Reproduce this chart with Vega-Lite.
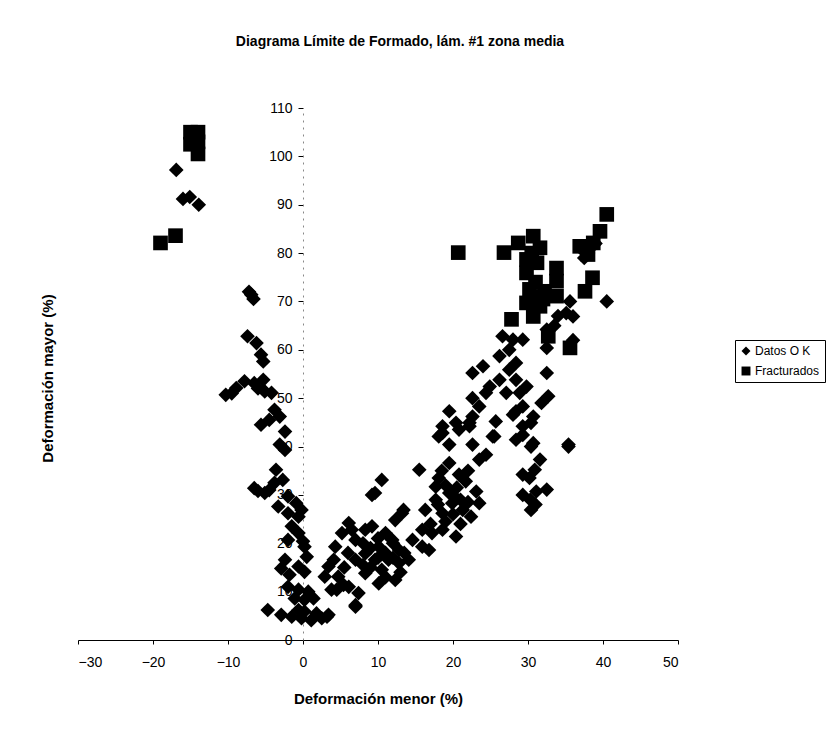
{
  "$schema": "https://vega.github.io/schema/vega-lite/v6.json",
  "width": 600,
  "height": 532,
  "autosize": {"type": "none"},
  "padding": {"left": 78, "top": 108, "right": 148, "bottom": 94},
  "background": "white",
  "title": {
    "text": "Diagrama Límite de Formado, lám. #1 zona media",
    "font": "Liberation Sans",
    "fontSize": 14,
    "fontWeight": "bold",
    "color": "#000",
    "anchor": "middle",
    "frame": "group",
    "dx": 22,
    "offset": 52
  },
  "config": {
    "view": {"stroke": null},
    "font": "Liberation Sans"
  },
  "datasets": {
    "pts": [
      {"x": -16.9, "y": 97.2, "t": "Datos O K"}, {"x": -16.0, "y": 91.2, "t": "Datos O K"}, {"x": -15.1, "y": 91.6, "t": "Datos O K"}, {"x": -13.9, "y": 90.0, "t": "Datos O K"},
      {"x": -6.9, "y": 71.4, "t": "Datos O K"}, {"x": -6.6, "y": 70.5, "t": "Datos O K"}, {"x": -7.2, "y": 72.0, "t": "Datos O K"},
      {"x": -7.4, "y": 62.8, "t": "Datos O K"}, {"x": -6.2, "y": 61.4, "t": "Datos O K"}, {"x": -5.6, "y": 59.0, "t": "Datos O K"}, {"x": -5.3, "y": 57.6, "t": "Datos O K"},
      {"x": -10.3, "y": 50.7, "t": "Datos O K"}, {"x": -8.9, "y": 52.1, "t": "Datos O K"}, {"x": -7.8, "y": 53.5, "t": "Datos O K"}, {"x": -6.5, "y": 53.1, "t": "Datos O K"}, {"x": -5.3, "y": 53.8, "t": "Datos O K"}, {"x": -5.1, "y": 51.4, "t": "Datos O K"}, {"x": -4.2, "y": 51.1, "t": "Datos O K"}, {"x": -9.5, "y": 51.0, "t": "Datos O K"}, {"x": -6.0, "y": 52.0, "t": "Datos O K"},
      {"x": -3.8, "y": 47.6, "t": "Datos O K"}, {"x": -3.1, "y": 46.2, "t": "Datos O K"}, {"x": -5.6, "y": 44.5, "t": "Datos O K"}, {"x": -2.4, "y": 43.1, "t": "Datos O K"}, {"x": -4.5, "y": 45.5, "t": "Datos O K"},
      {"x": -3.1, "y": 40.4, "t": "Datos O K"}, {"x": -2.4, "y": 39.3, "t": "Datos O K"}, {"x": -3.6, "y": 35.2, "t": "Datos O K"},
      {"x": -6.5, "y": 31.4, "t": "Datos O K"}, {"x": -5.1, "y": 30.4, "t": "Datos O K"}, {"x": -3.8, "y": 32.5, "t": "Datos O K"}, {"x": -2.7, "y": 33.1, "t": "Datos O K"}, {"x": -4.5, "y": 31.0, "t": "Datos O K"}, {"x": -6.0, "y": 30.8, "t": "Datos O K"},
      {"x": -2.0, "y": 29.7, "t": "Datos O K"}, {"x": -0.9, "y": 28.3, "t": "Datos O K"}, {"x": -3.3, "y": 27.6, "t": "Datos O K"}, {"x": -2.0, "y": 26.2, "t": "Datos O K"}, {"x": -0.6, "y": 25.5, "t": "Datos O K"}, {"x": -0.2, "y": 26.9, "t": "Datos O K"},
      {"x": -1.5, "y": 23.5, "t": "Datos O K"}, {"x": -0.6, "y": 22.1, "t": "Datos O K"}, {"x": 0.0, "y": 20.4, "t": "Datos O K"}, {"x": -2.0, "y": 20.7, "t": "Datos O K"},
      {"x": 0.2, "y": 19.3, "t": "Datos O K"}, {"x": 0.5, "y": 17.2, "t": "Datos O K"}, {"x": -2.4, "y": 16.6, "t": "Datos O K"}, {"x": -0.6, "y": 15.2, "t": "Datos O K"}, {"x": 0.2, "y": 14.1, "t": "Datos O K"}, {"x": -2.9, "y": 14.8, "t": "Datos O K"}, {"x": -1.8, "y": 13.5, "t": "Datos O K"},
      {"x": -2.0, "y": 11.0, "t": "Datos O K"}, {"x": -0.6, "y": 10.4, "t": "Datos O K"}, {"x": 0.7, "y": 10.0, "t": "Datos O K"}, {"x": 1.4, "y": 8.6, "t": "Datos O K"}, {"x": -1.1, "y": 8.6, "t": "Datos O K"}, {"x": 0.2, "y": 8.3, "t": "Datos O K"},
      {"x": -4.7, "y": 6.2, "t": "Datos O K"}, {"x": -2.9, "y": 5.2, "t": "Datos O K"}, {"x": -1.5, "y": 4.8, "t": "Datos O K"}, {"x": -0.2, "y": 4.5, "t": "Datos O K"}, {"x": 1.1, "y": 4.1, "t": "Datos O K"}, {"x": 2.5, "y": 4.5, "t": "Datos O K"}, {"x": 3.4, "y": 5.2, "t": "Datos O K"}, {"x": 0.2, "y": 5.9, "t": "Datos O K"}, {"x": 1.8, "y": 5.5, "t": "Datos O K"}, {"x": -0.6, "y": 6.2, "t": "Datos O K"},
      {"x": 2.9, "y": 13.1, "t": "Datos O K"}, {"x": 4.5, "y": 10.4, "t": "Datos O K"}, {"x": 5.4, "y": 11.4, "t": "Datos O K"}, {"x": 7.0, "y": 7.2, "t": "Datos O K"}, {"x": 4.3, "y": 19.3, "t": "Datos O K"}, {"x": 4.1, "y": 16.6, "t": "Datos O K"}, {"x": 6.1, "y": 24.2, "t": "Datos O K"}, {"x": 6.5, "y": 22.8, "t": "Datos O K"}, {"x": 5.2, "y": 22.1, "t": "Datos O K"}, {"x": 9.6, "y": 30.4, "t": "Datos O K"}, {"x": 10.5, "y": 33.1, "t": "Datos O K"}, {"x": 9.2, "y": 30.0, "t": "Datos O K"},
      {"x": 7.0, "y": 20.7, "t": "Datos O K"}, {"x": 8.3, "y": 22.8, "t": "Datos O K"}, {"x": 9.2, "y": 23.5, "t": "Datos O K"}, {"x": 11.0, "y": 22.1, "t": "Datos O K"}, {"x": 11.9, "y": 20.7, "t": "Datos O K"}, {"x": 10.1, "y": 19.3, "t": "Datos O K"}, {"x": 12.8, "y": 18.6, "t": "Datos O K"}, {"x": 8.3, "y": 17.9, "t": "Datos O K"}, {"x": 9.6, "y": 16.6, "t": "Datos O K"}, {"x": 11.4, "y": 16.6, "t": "Datos O K"}, {"x": 12.8, "y": 15.9, "t": "Datos O K"}, {"x": 14.1, "y": 16.6, "t": "Datos O K"}, {"x": 7.0, "y": 16.6, "t": "Datos O K"}, {"x": 3.4, "y": 15.2, "t": "Datos O K"}, {"x": 4.7, "y": 13.1, "t": "Datos O K"}, {"x": 6.1, "y": 11.0, "t": "Datos O K"}, {"x": 7.4, "y": 9.7, "t": "Datos O K"}, {"x": 8.3, "y": 13.8, "t": "Datos O K"}, {"x": 10.5, "y": 14.5, "t": "Datos O K"}, {"x": 10.1, "y": 11.7, "t": "Datos O K"}, {"x": 12.3, "y": 12.4, "t": "Datos O K"}, {"x": 3.8, "y": 10.4, "t": "Datos O K"}, {"x": 7.0, "y": 6.9, "t": "Datos O K"}, {"x": 3.2, "y": 4.8, "t": "Datos O K"},
      {"x": 8.0, "y": 20.0, "t": "Datos O K"}, {"x": 9.0, "y": 19.0, "t": "Datos O K"}, {"x": 10.0, "y": 21.0, "t": "Datos O K"}, {"x": 11.0, "y": 18.0, "t": "Datos O K"}, {"x": 12.0, "y": 20.0, "t": "Datos O K"}, {"x": 9.0, "y": 15.0, "t": "Datos O K"}, {"x": 11.0, "y": 13.0, "t": "Datos O K"}, {"x": 13.0, "y": 14.0, "t": "Datos O K"}, {"x": 6.0, "y": 18.0, "t": "Datos O K"}, {"x": 8.0, "y": 15.5, "t": "Datos O K"}, {"x": 10.0, "y": 17.0, "t": "Datos O K"}, {"x": 12.0, "y": 17.0, "t": "Datos O K"}, {"x": 13.5, "y": 18.0, "t": "Datos O K"}, {"x": 5.5, "y": 15.0, "t": "Datos O K"},
      {"x": 13.4, "y": 26.9, "t": "Datos O K"}, {"x": 13.2, "y": 26.2, "t": "Datos O K"}, {"x": 12.3, "y": 24.8, "t": "Datos O K"},
      {"x": 15.9, "y": 22.8, "t": "Datos O K"}, {"x": 17.2, "y": 22.1, "t": "Datos O K"}, {"x": 18.6, "y": 22.8, "t": "Datos O K"}, {"x": 20.4, "y": 21.4, "t": "Datos O K"}, {"x": 14.6, "y": 20.7, "t": "Datos O K"}, {"x": 15.9, "y": 19.3, "t": "Datos O K"}, {"x": 16.8, "y": 18.6, "t": "Datos O K"}, {"x": 15.5, "y": 35.2, "t": "Datos O K"},
      {"x": 18.6, "y": 42.8, "t": "Datos O K"}, {"x": 19.5, "y": 40.4, "t": "Datos O K"}, {"x": 20.4, "y": 44.9, "t": "Datos O K"}, {"x": 22.2, "y": 44.2, "t": "Datos O K"}, {"x": 22.6, "y": 40.4, "t": "Datos O K"}, {"x": 23.5, "y": 37.3, "t": "Datos O K"}, {"x": 24.4, "y": 38.3, "t": "Datos O K"}, {"x": 25.7, "y": 45.2, "t": "Datos O K"}, {"x": 25.5, "y": 42.1, "t": "Datos O K"}, {"x": 28.4, "y": 41.4, "t": "Datos O K"}, {"x": 29.3, "y": 42.4, "t": "Datos O K"}, {"x": 30.4, "y": 44.9, "t": "Datos O K"}, {"x": 30.4, "y": 40.0, "t": "Datos O K"}, {"x": 31.6, "y": 37.3, "t": "Datos O K"}, {"x": 30.9, "y": 35.2, "t": "Datos O K"}, {"x": 29.3, "y": 34.2, "t": "Datos O K"}, {"x": 30.2, "y": 33.5, "t": "Datos O K"}, {"x": 29.3, "y": 30.0, "t": "Datos O K"}, {"x": 31.1, "y": 30.7, "t": "Datos O K"}, {"x": 32.5, "y": 31.1, "t": "Datos O K"}, {"x": 30.4, "y": 26.9, "t": "Datos O K"}, {"x": 35.4, "y": 40.0, "t": "Datos O K"},
      {"x": 19.5, "y": 36.6, "t": "Datos O K"}, {"x": 18.1, "y": 33.5, "t": "Datos O K"}, {"x": 17.7, "y": 31.7, "t": "Datos O K"}, {"x": 20.8, "y": 34.2, "t": "Datos O K"}, {"x": 21.7, "y": 32.8, "t": "Datos O K"}, {"x": 23.1, "y": 30.7, "t": "Datos O K"}, {"x": 23.5, "y": 28.3, "t": "Datos O K"}, {"x": 22.4, "y": 25.5, "t": "Datos O K"}, {"x": 17.7, "y": 29.0, "t": "Datos O K"}, {"x": 16.3, "y": 26.9, "t": "Datos O K"}, {"x": 19.9, "y": 28.3, "t": "Datos O K"}, {"x": 21.3, "y": 26.9, "t": "Datos O K"}, {"x": 18.6, "y": 26.2, "t": "Datos O K"}, {"x": 19.5, "y": 30.4, "t": "Datos O K"},
      {"x": 19.0, "y": 32.0, "t": "Datos O K"}, {"x": 20.0, "y": 30.0, "t": "Datos O K"}, {"x": 21.0, "y": 29.0, "t": "Datos O K"}, {"x": 18.0, "y": 28.0, "t": "Datos O K"}, {"x": 20.5, "y": 31.5, "t": "Datos O K"}, {"x": 22.0, "y": 35.0, "t": "Datos O K"}, {"x": 17.0, "y": 24.0, "t": "Datos O K"}, {"x": 19.0, "y": 24.5, "t": "Datos O K"}, {"x": 21.0, "y": 24.0, "t": "Datos O K"}, {"x": 20.0, "y": 26.0, "t": "Datos O K"}, {"x": 22.0, "y": 28.5, "t": "Datos O K"}, {"x": 18.5, "y": 35.0, "t": "Datos O K"},
      {"x": 35.6, "y": 70.0, "t": "Datos O K"}, {"x": 35.1, "y": 67.6, "t": "Datos O K"}, {"x": 32.5, "y": 64.2, "t": "Datos O K"}, {"x": 40.5, "y": 70.0, "t": "Datos O K"}, {"x": 32.5, "y": 60.4, "t": "Datos O K"}, {"x": 32.5, "y": 55.2, "t": "Datos O K"}, {"x": 32.7, "y": 50.4, "t": "Datos O K"}, {"x": 31.8, "y": 49.0, "t": "Datos O K"}, {"x": 30.7, "y": 46.2, "t": "Datos O K"}, {"x": 29.3, "y": 44.2, "t": "Datos O K"}, {"x": 28.4, "y": 47.3, "t": "Datos O K"}, {"x": 30.7, "y": 40.7, "t": "Datos O K"}, {"x": 35.4, "y": 40.4, "t": "Datos O K"},
      {"x": 26.6, "y": 62.8, "t": "Datos O K"}, {"x": 28.0, "y": 62.1, "t": "Datos O K"}, {"x": 29.3, "y": 62.1, "t": "Datos O K"}, {"x": 27.5, "y": 60.0, "t": "Datos O K"}, {"x": 26.2, "y": 58.7, "t": "Datos O K"}, {"x": 28.4, "y": 57.3, "t": "Datos O K"}, {"x": 22.6, "y": 55.2, "t": "Datos O K"}, {"x": 24.0, "y": 56.6, "t": "Datos O K"}, {"x": 27.5, "y": 55.9, "t": "Datos O K"}, {"x": 26.2, "y": 53.8, "t": "Datos O K"}, {"x": 28.4, "y": 53.8, "t": "Datos O K"}, {"x": 29.8, "y": 52.4, "t": "Datos O K"}, {"x": 24.9, "y": 52.4, "t": "Datos O K"}, {"x": 22.6, "y": 50.0, "t": "Datos O K"}, {"x": 24.4, "y": 51.1, "t": "Datos O K"}, {"x": 27.1, "y": 51.1, "t": "Datos O K"}, {"x": 28.9, "y": 51.1, "t": "Datos O K"}, {"x": 19.5, "y": 47.3, "t": "Datos O K"}, {"x": 22.6, "y": 46.2, "t": "Datos O K"}, {"x": 23.5, "y": 48.3, "t": "Datos O K"}, {"x": 18.6, "y": 44.2, "t": "Datos O K"}, {"x": 20.8, "y": 43.5, "t": "Datos O K"}, {"x": 22.2, "y": 44.9, "t": "Datos O K"}, {"x": 18.1, "y": 42.1, "t": "Datos O K"}, {"x": 25.3, "y": 42.1, "t": "Datos O K"}, {"x": 28.0, "y": 46.6, "t": "Datos O K"}, {"x": 29.3, "y": 48.3, "t": "Datos O K"},
      {"x": 33.5, "y": 65.0, "t": "Datos O K"}, {"x": 34.0, "y": 67.0, "t": "Datos O K"}, {"x": 36.0, "y": 62.0, "t": "Datos O K"}, {"x": 37.0, "y": 81.0, "t": "Datos O K"}, {"x": 38.0, "y": 80.0, "t": "Datos O K"}, {"x": 39.0, "y": 82.0, "t": "Datos O K"}, {"x": 37.5, "y": 79.0, "t": "Datos O K"}, {"x": 36.0, "y": 66.9, "t": "Datos O K"}, {"x": 30.3, "y": 29.0, "t": "Datos O K"}, {"x": 31.0, "y": 28.0, "t": "Datos O K"},
      {"x": -15.0, "y": 105.0, "t": "Fracturados"}, {"x": -15.0, "y": 102.5, "t": "Fracturados"}, {"x": -14.0, "y": 105.0, "t": "Fracturados"}, {"x": -14.0, "y": 103.0, "t": "Fracturados"}, {"x": -14.0, "y": 100.5, "t": "Fracturados"}, {"x": -19.0, "y": 82.1, "t": "Fracturados"}, {"x": -17.0, "y": 83.6, "t": "Fracturados"},
      {"x": 20.7, "y": 80.1, "t": "Fracturados"}, {"x": 26.8, "y": 80.1, "t": "Fracturados"}, {"x": 28.7, "y": 82.1, "t": "Fracturados"}, {"x": 30.7, "y": 83.5, "t": "Fracturados"}, {"x": 31.6, "y": 81.1, "t": "Fracturados"}, {"x": 29.8, "y": 78.7, "t": "Fracturados"}, {"x": 29.8, "y": 75.9, "t": "Fracturados"}, {"x": 33.8, "y": 76.9, "t": "Fracturados"}, {"x": 33.8, "y": 74.2, "t": "Fracturados"}, {"x": 33.8, "y": 71.1, "t": "Fracturados"}, {"x": 30.2, "y": 72.5, "t": "Fracturados"}, {"x": 32.2, "y": 72.1, "t": "Fracturados"}, {"x": 29.8, "y": 69.7, "t": "Fracturados"}, {"x": 31.6, "y": 69.0, "t": "Fracturados"}, {"x": 30.7, "y": 66.9, "t": "Fracturados"}, {"x": 27.8, "y": 66.3, "t": "Fracturados"}, {"x": 37.6, "y": 72.1, "t": "Fracturados"}, {"x": 38.6, "y": 74.9, "t": "Fracturados"}, {"x": 36.9, "y": 81.4, "t": "Fracturados"}, {"x": 38.7, "y": 82.1, "t": "Fracturados"}, {"x": 39.6, "y": 84.5, "t": "Fracturados"}, {"x": 38.0, "y": 79.7, "t": "Fracturados"}, {"x": 32.7, "y": 62.8, "t": "Fracturados"}, {"x": 35.6, "y": 60.4, "t": "Fracturados"}, {"x": 40.5, "y": 88.0, "t": "Fracturados"}, {"x": 31.2, "y": 78.0, "t": "Fracturados"}, {"x": 30.5, "y": 80.0, "t": "Fracturados"}, {"x": 32.0, "y": 70.5, "t": "Fracturados"}, {"x": 30.5, "y": 71.0, "t": "Fracturados"}, {"x": 31.0, "y": 74.0, "t": "Fracturados"}
    ]
  },
  "data": {"name": "pts"},
  "mark": {"type": "point", "filled": true, "opacity": 1, "strokeWidth": 0, "size": 215},
  "encoding": {
    "x": {
      "field": "x", "type": "quantitative",
      "scale": {"domain": [-30, 50], "nice": false, "zero": false},
      "axis": {
        "title": "Deformación menor (%)",
        "values": [-30, -20, -10, 0, 10, 20, 30, 40, 50],
        "grid": false,
        "domainColor": "#000", "domainWidth": 1,
        "tickColor": "#000", "tickSize": 4,
        "labelFont": "Liberation Sans", "labelFontSize": 14, "labelColor": "#000", "labelPadding": 11,
        "titleFont": "Liberation Sans", "titleFontSize": 15, "titleFontWeight": "bold", "titleColor": "#000", "titlePadding": 22
      }
    },
    "y": {
      "field": "y", "type": "quantitative",
      "scale": {"domain": [0, 110], "nice": false},
      "axis": {
        "title": "Deformación mayor (%)",
        "values": [0, 10, 20, 30, 40, 50, 60, 70, 80, 90, 100, 110],
        "offset": -225,
        "grid": false,
        "domainColor": "#888", "domainWidth": 1, "domainDash": [2, 5],
        "tickColor": "#000", "tickSize": 5,
        "labelFont": "Liberation Sans", "labelFontSize": 14, "labelColor": "#000", "labelPadding": 6,
        "titleFont": "Liberation Sans", "titleFontSize": 15, "titleFontWeight": "bold", "titleColor": "#000",
        "titleX": -256, "titleY": 270, "titleBaseline": "middle", "titleAlign": "center", "titleAngle": -90
      }
    },
    "shape": {
      "field": "t", "type": "nominal",
      "scale": {"domain": ["Datos O K", "Fracturados"], "range": ["diamond", "square"]},
      "legend": {
        "title": null, "orient": "none", "legendX": 657, "legendY": 232,
        "strokeColor": "#000", "padding": 5,
        "labelFont": "Liberation Sans", "labelFontSize": 12, "labelColor": "#000",
        "symbolSize": 80, "symbolFillColor": "#000", "symbolStrokeColor": "#000", "symbolStrokeWidth": 0, "rowPadding": 8, "symbolOffset": 0, "labelOffset": 3
      }
    },
    "color": {"value": "#000"}
  }
}
